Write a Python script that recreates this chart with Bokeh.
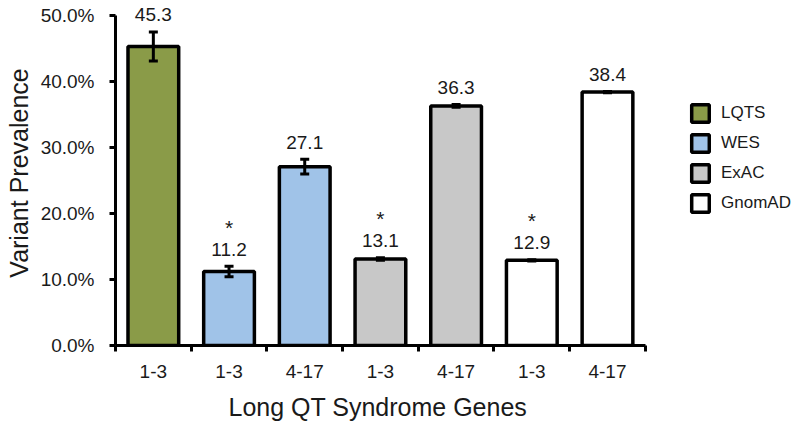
from bokeh.plotting import figure
from bokeh.models import (ColumnDataSource, Whisker, TeeHead, FixedTicker,
                          PrintfTickFormatter, Legend, LegendItem, Range1d, Title)
from bokeh.core.properties import value
from bokeh.embed import file_html
from bokeh.resources import INLINE

# ---- data ----
gene_sets = ["1-3", "1-3", "4-17", "1-3", "4-17", "1-3", "4-17"]
cohorts = ["LQTS", "WES", "WES", "ExAC", "ExAC", "GnomAD", "GnomAD"]
prevalence = [45.3, 11.2, 27.1, 13.1, 36.3, 12.9, 38.4]
errors = [2.2, 0.8, 1.1, 0.2, 0.2, 0.1, 0.1]
significant = [False, True, False, True, False, True, False]
cohort_names = ["LQTS", "WES", "ExAC", "GnomAD"]
cohort_colors = ["#8a9b48", "#a0c3e8", "#c8c8c8", "#ffffff"]
y_ticks = [0, 10, 20, 30, 40, 50]
x_title = "Long QT Syndrome Genes"

FONT = value("Liberation Sans")
TXT = "#1a1a1a"

n = len(prevalence)
xs = [i + 0.5 for i in range(n)]

p = figure(width=800, height=434, output_backend="svg", toolbar_location=None,
           x_range=Range1d(0, 9.05), y_range=Range1d(0, 52.27),
           min_border_left=115, min_border_right=0, min_border_top=0,
           min_border_bottom=89)
p.outline_line_color = None
p.xgrid.grid_line_color = None
p.ygrid.grid_line_color = None
p.background_fill_color = "white"

legend_items = []
for name, color in zip(cohort_names, cohort_colors):
    idx = [i for i, c in enumerate(cohorts) if c == name]
    src = ColumnDataSource(dict(x=[xs[i] for i in idx], top=[prevalence[i] for i in idx]))
    r = p.vbar(x="x", top="top", bottom=0, width=0.67, source=src,
               fill_color=color, line_color="black", line_width=3.5)
    legend_items.append(LegendItem(label=name, renderers=[r]))

err_src = ColumnDataSource(dict(
    x=xs,
    upper=[v + e for v, e in zip(prevalence, errors)],
    lower=[v - e for v, e in zip(prevalence, errors)],
    label=["%.1f" % v for v in prevalence],
))
w = Whisker(base="x", upper="upper", lower="lower", source=err_src,
            line_color="black", line_width=3,
            upper_head=TeeHead(size=9, line_width=3, line_color="black"),
            lower_head=TeeHead(size=9, line_width=3, line_color="black"))
w.level = "overlay"
p.add_layout(w)

p.text(x="x", y="upper", text="label", source=err_src, text_align="center",
       text_baseline="alphabetic", y_offset=-17, text_font=FONT,
       text_font_size="19px", text_color=TXT)

sig_idx = [i for i, s in enumerate(significant) if s]
sig_src = ColumnDataSource(dict(
    x=[xs[i] for i in sig_idx],
    y=[prevalence[i] + errors[i] for i in sig_idx],
    t=["*" for _ in sig_idx],
))
p.text(x="x", y="y", text="t", source=sig_src, text_align="center",
       text_baseline="alphabetic", y_offset=-39, text_font=FONT,
       text_font_size="21px", text_color=TXT)

# axes
xa = p.xaxis[0]
xa.bounds = (0, n)
xa.ticker = FixedTicker(ticks=xs, minor_ticks=list(range(n + 1)))
xa.major_label_overrides = {x: g for x, g in zip(xs, gene_sets)}
xa.major_tick_out = 0
xa.major_tick_in = 0
xa.minor_tick_out = 6
xa.minor_tick_in = 0
xa.minor_tick_line_width = 3
xa.minor_tick_line_color = "black"
xa.axis_line_width = 3
xa.axis_line_color = "black"
xa.major_label_text_font = "Liberation Sans"
xa.major_label_text_font_size = "19px"
xa.major_label_text_color = TXT
xa.major_label_standoff = 13

# x-axis title, centred under the bounded axis
xt = Title(text=x_title, align="left", offset=113, standoff=20,
           text_font="Liberation Sans", text_font_size="25px",
           text_font_style="normal", text_color=TXT)
p.add_layout(xt, "below")

ya = p.yaxis[0]
ya.bounds = (0, 50)
ya.ticker = FixedTicker(ticks=y_ticks)
ya.formatter = PrintfTickFormatter(format="%.1f%%")
ya.major_tick_out = 6
ya.major_tick_in = 0
ya.major_tick_line_width = 3
ya.minor_tick_line_color = None
ya.axis_line_width = 3
ya.axis_line_color = "black"
ya.major_label_text_font = "Liberation Sans"
ya.major_label_text_font_size = "19px"
ya.major_label_text_color = TXT
ya.major_label_standoff = 15
ya.axis_label = "Variant Prevalence"
ya.axis_label_text_font = "Liberation Sans"
ya.axis_label_text_font_size = "25px"
ya.axis_label_text_font_style = "normal"
ya.axis_label_text_color = TXT
ya.axis_label_standoff = 5

legend = Legend(items=legend_items, location=(574, 131), orientation="vertical",
                glyph_width=22, glyph_height=22, spacing=8, padding=0, margin=0,
                label_standoff=10, label_text_font="Liberation Sans",
                label_text_font_size="17px", label_text_color=TXT,
                border_line_color=None, background_fill_alpha=0)
p.add_layout(legend)

open("out.html", "w").write(file_html(p, INLINE))
